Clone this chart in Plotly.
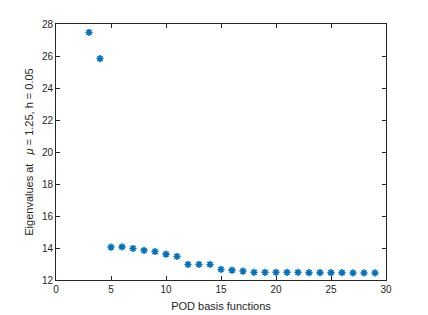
import plotly.graph_objects as go

basis = list(range(3, 30))
eigenvalues = [27.47, 25.84, 14.06, 14.07, 13.97, 13.85, 13.78, 13.62, 13.47,
               12.97, 12.97, 12.97, 12.66, 12.62, 12.56, 12.48, 12.48, 12.48,
               12.48, 12.48, 12.46, 12.46, 12.46, 12.46, 12.44, 12.44, 12.44]
x_ticks = [0, 5, 10, 15, 20, 25, 30]
y_ticks = [12, 14, 16, 18, 20, 22, 24, 26, 28]

fig = go.Figure()
fig.add_trace(go.Scatter(
    x=basis, y=eigenvalues, mode="markers",
    marker=dict(symbol="asterisk-open", size=6, color="#0072BD",
                line=dict(color="#0072BD", width=1.6)),
    showlegend=False,
))

axis_common = dict(
    showline=True, linecolor="#262626", linewidth=1, mirror="ticks",
    ticks="inside", ticklen=4, tickcolor="#262626", showgrid=False,
    zeroline=False, automargin=False,
    tickfont=dict(family="Liberation Sans, Arial", size=10, color="#262626"),
)
fig.update_xaxes(range=[0, 30], tickvals=x_ticks,
                 title=dict(text="POD basis functions", standoff=8,
                            font=dict(family="Liberation Sans, Arial", size=11, color="#262626")),
                 **axis_common)
fig.update_yaxes(range=[12, 28], tickvals=y_ticks,
                 title=dict(text="Eigenvalues at   <i>μ</i> = 1.25, h = 0.05", standoff=6,
                            font=dict(family="Liberation Sans, Arial", size=11, color="#262626")),
                 **axis_common)
fig.update_layout(
    width=428, height=315,
    margin=dict(l=56, r=42, t=24, b=35),
    plot_bgcolor="white", paper_bgcolor="white",
)
fig.write_html("out.html", config={"displayModeBar": False},
               post_script="document.body.style.margin='0';")
